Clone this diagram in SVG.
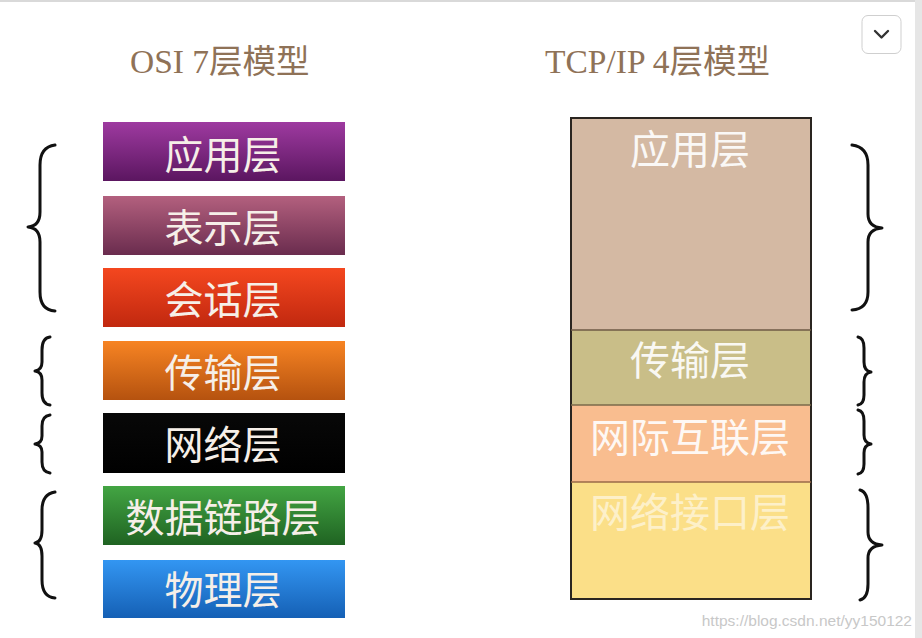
<svg xmlns="http://www.w3.org/2000/svg" width="922" height="638" viewBox="0 0 922 638">
<style>
.title{font-family:"Liberation Serif","Noto Sans CJK SC",serif;font-size:33.5px;fill:#8f7257}
.lt{font-family:"Noto Sans CJK SC",sans-serif;font-size:39px;fill:#f6efe8;text-anchor:middle}
.rt{font-family:"Noto Sans CJK SC",sans-serif;font-size:40px;fill:#ffffff;text-anchor:middle;opacity:0.9}
.brace{fill:none;stroke:#111;stroke-width:3;stroke-linecap:round;stroke-linejoin:round}
.wm{font-family:"Liberation Sans",sans-serif;font-size:15.5px;fill:#c8c8c8}
</style>
<defs>
<linearGradient id="g1" x1="0" y1="0" x2="0" y2="1"><stop offset="0" stop-color="#9e3aa0"/><stop offset="1" stop-color="#5b1660"/></linearGradient>
<linearGradient id="g2" x1="0" y1="0" x2="0" y2="1"><stop offset="0" stop-color="#b3607e"/><stop offset="1" stop-color="#6a2c4e"/></linearGradient>
<linearGradient id="g3" x1="0" y1="0" x2="0" y2="1"><stop offset="0" stop-color="#f4471f"/><stop offset="1" stop-color="#c1280f"/></linearGradient>
<linearGradient id="g4" x1="0" y1="0" x2="0" y2="1"><stop offset="0" stop-color="#f78423"/><stop offset="1" stop-color="#b5520f"/></linearGradient>
<linearGradient id="g5" x1="0" y1="0" x2="0" y2="1"><stop offset="0" stop-color="#080808"/><stop offset="1" stop-color="#000000"/></linearGradient>
<linearGradient id="g6" x1="0" y1="0" x2="0" y2="1"><stop offset="0" stop-color="#43a543"/><stop offset="1" stop-color="#1f6322"/></linearGradient>
<linearGradient id="g7" x1="0" y1="0" x2="0" y2="1"><stop offset="0" stop-color="#3396f2"/><stop offset="1" stop-color="#1560b5"/></linearGradient>
</defs>
<rect x="0" y="0" width="922" height="638" fill="#ffffff"/>
<rect x="0" y="0" width="922" height="2" fill="#d9d9d9"/>
<rect x="915" y="0" width="7" height="638" fill="#e6e6e6"/>
<g id="dropdown">
<rect x="862" y="15.5" width="39" height="38" rx="6" fill="#ffffff" stroke="#cfcfcf"/>
<path d="M875 31 L881.5 37.5 L888 31" fill="none" stroke="#333" stroke-width="2.4" stroke-linecap="round" stroke-linejoin="round"/>
</g>
<text class="title" x="130" y="73">OSI 7层模型</text>
<text class="title" x="545" y="73">TCP/IP 4层模型</text>

<g id="osi-app"><rect x="103" y="122" width="242" height="59" fill="url(#g1)"/><text class="lt" x="223" y="169">应用层</text></g>
<g id="osi-pres"><rect x="103" y="196" width="242" height="59" fill="url(#g2)"/><text class="lt" x="223" y="242">表示层</text></g>
<g id="osi-sess"><rect x="103" y="268" width="242" height="59" fill="url(#g3)"/><text class="lt" x="223" y="314">会话层</text></g>
<g id="osi-trans"><rect x="103" y="341" width="242" height="59" fill="url(#g4)"/><text class="lt" x="223" y="387">传输层</text></g>
<g id="osi-net"><rect x="103" y="413" width="242" height="60" fill="url(#g5)"/><text class="lt" x="223" y="459">网络层</text></g>
<g id="osi-link"><rect x="103" y="486" width="242" height="59" fill="url(#g6)"/><text class="lt" x="223" y="532">数据链路层</text></g>
<g id="osi-phys"><rect x="103" y="560" width="242" height="58" fill="url(#g7)"/><text class="lt" x="223" y="604">物理层</text></g>

<g id="tcp-app"><rect x="571" y="118" width="240" height="212" fill="#d4b9a3"/><text class="rt" x="690" y="164">应用层</text></g>
<g id="tcp-trans"><rect x="571" y="330" width="240" height="75" fill="#c9be88"/><text class="rt" x="690" y="375">传输层</text></g>
<g id="tcp-inet"><rect x="571" y="405" width="240" height="77" fill="#f9bd8f"/><text class="rt" x="690" y="452" opacity="0.8">网际互联层</text></g>
<g id="tcp-link"><rect x="571" y="482" width="240" height="117" fill="#fbdf88"/><text class="rt" x="690" y="527" style="opacity:0.55">网络接口层</text></g>
<g id="tcp-frame">
<rect x="571" y="118" width="240" height="481" fill="none" stroke="#2a2520" stroke-width="2"/>
<line x1="571" y1="330" x2="811" y2="330" stroke="#6e5a45" stroke-width="1.5"/>
<line x1="571" y1="405" x2="811" y2="405" stroke="#7a6a4a" stroke-width="1.5"/>
<line x1="571" y1="482" x2="811" y2="482" stroke="#9a6a48" stroke-width="1.5"/>
</g>

<g id="connectors">
<path class="brace" d="M55 145 Q40 147 40 165 L40 212 Q40 226 28 227 Q40 228 40 242 L40 292 Q40 310 55 311"/>
<path class="brace" d="M50 337 Q42 338 42 350 L42 362 Q42 370 35 371 Q42 372 42 380 L42 393 Q42 404 50 405"/>
<path class="brace" d="M50 415 Q42 416 42 426 L42 436 Q42 443 35 444 Q42 445 42 452 L42 462 Q42 472 50 473"/>
<path class="brace" d="M55 492 Q42 494 42 510 L42 530 Q42 542 35 543 Q42 544 42 556 L42 580 Q42 597 55 598"/>
<path class="brace" d="M852 145 Q868 147 868 165 L868 214 Q868 227 882 228 Q868 229 868 242 L868 292 Q868 309 852 310"/>
<path class="brace" d="M858 337 Q864 338 864 348 L864 362 Q864 371 871 372 Q864 373 864 382 L864 395 Q864 404 858 405"/>
<path class="brace" d="M858 410 Q864 411 864 421 L864 435 Q864 443 871 444 Q864 445 864 453 L864 464 Q864 473 858 474"/>
<path class="brace" d="M860 490 Q868 492 868 508 L868 532 Q868 544 882 545 Q868 546 868 558 L868 584 Q868 598 860 600"/>
</g>
<text class="wm" x="912" y="626" text-anchor="end">https://blog.csdn.net/yy150122</text>
</svg>
